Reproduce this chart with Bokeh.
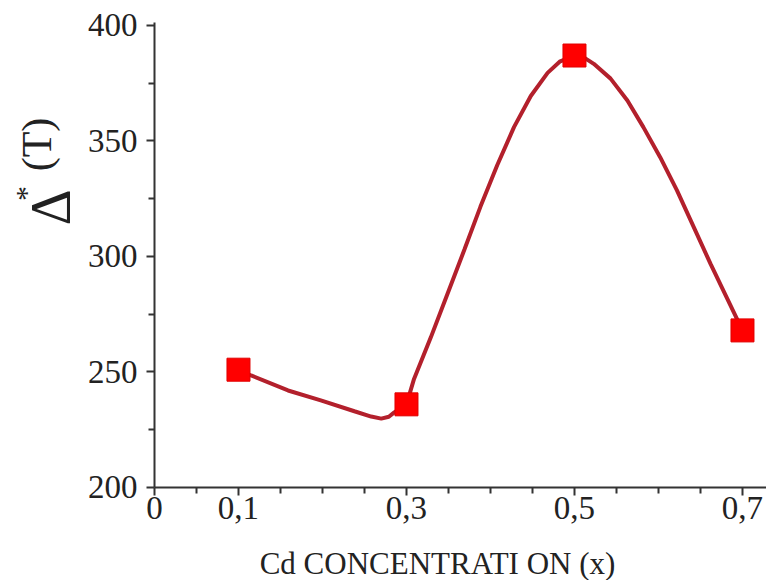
import math
from bokeh.plotting import figure
from bokeh.models import FixedTicker, Label, Range1d
from bokeh.embed import file_html
from bokeh.resources import INLINE

# data points (markers)
cd_x = [0.1, 0.3, 0.5, 0.7]
delta_t = [251, 236, 387, 268]

# smooth curve
curve_x = [0.1, 0.115, 0.159, 0.198, 0.238, 0.258, 0.27, 0.279, 0.2855, 0.3,
           0.309, 0.329, 0.349, 0.369, 0.388, 0.408, 0.428, 0.448, 0.468, 0.483, 0.5,
           0.512, 0.523, 0.543, 0.563, 0.582, 0.602, 0.622, 0.642, 0.662, 0.681, 0.7]
curve_y = [251, 248.5, 242, 237.7, 233, 230.7, 229.8, 230.6, 232.5, 236,
           247, 265, 284, 303, 321.5, 339.5, 356, 369.5, 379.5, 384.5, 387,
           386, 383.4, 377, 367.5, 356, 343, 328.6, 312.7, 296.8, 282.4, 268]

x_ticks = [0, 0.1, 0.3, 0.5, 0.7]
x_tick_labels = ["0", "0,1", "0,3", "0,5", "0,7"]
x_minor = [0.05, 0.15, 0.2, 0.25, 0.35, 0.4, 0.45, 0.55, 0.6, 0.65]
y_ticks = [200, 250, 300, 350, 400]
y_minor = [225, 275, 325, 375]

FONT = "Liberation Serif"

p = figure(width=766, height=580, output_backend="svg", toolbar_location=None,
           x_range=Range1d(-0.1833, 0.7286), y_range=Range1d(159.74, 410.82),
           min_border_left=0, min_border_right=0, min_border_top=0,
           min_border_bottom=0)
p.outline_line_color = None
p.grid.visible = False
p.background_fill_color = "white"
p.border_fill_color = "white"

p.line(curve_x, curve_y, line_color="#b3202c", line_width=4)
p.scatter(cd_x, delta_t, marker="square", size=23, fill_color="#ff0000",
          line_color="#e00000", line_width=1)

for ax in (p.xaxis[0], p.yaxis[0]):
    ax.axis_line_color = "#333333"
    ax.axis_line_width = 2
    ax.major_tick_line_color = "#333333"
    ax.minor_tick_line_color = "#333333"
    ax.major_tick_line_width = 2
    ax.minor_tick_line_width = 2
    ax.major_tick_in = 0
    ax.minor_tick_in = 0
    ax.major_tick_out = 8
    ax.minor_tick_out = 6
    ax.major_label_text_font = FONT
    ax.major_label_text_color = "#222222"

p.xaxis.fixed_location = 200
p.xaxis.bounds = (0, 0.7286)
p.xaxis.ticker = FixedTicker(ticks=x_ticks, minor_ticks=x_minor)
p.xaxis.major_label_overrides = {t: l for t, l in zip(x_ticks, x_tick_labels)}
p.xaxis.major_label_text_font_size = "33px"
p.xaxis.major_label_standoff = 2

p.yaxis.fixed_location = 0
p.yaxis.bounds = (200, 401.5)
p.yaxis.ticker = FixedTicker(ticks=y_ticks, minor_ticks=y_minor)
p.yaxis.major_label_text_font_size = "33px"
p.yaxis.major_label_standoff = 9

# axis titles
p.add_layout(Label(x=437, y=17, x_units="screen", y_units="screen",
                   text="Cd CONCENTRATI ON (x)", text_font=FONT,
                   text_font_size="31px", text_color="#222222",
                   text_align="center", text_baseline="middle"))
p.add_layout(Label(x=50, y=373, x_units="screen", y_units="screen",
                   text="Δ", text_font=FONT, text_font_size="56px",
                   text_color="#222222", angle=math.pi / 2,
                   text_align="center", text_baseline="middle"))
p.add_layout(Label(x=25, y=387, x_units="screen", y_units="screen",
                   text="*", text_font=FONT, text_font_size="30px",
                   text_color="#222222", angle=math.pi / 2,
                   text_align="center", text_baseline="middle"))
p.add_layout(Label(x=36, y=436, x_units="screen", y_units="screen",
                   text="(T)", text_font=FONT, text_font_size="42px",
                   text_color="#222222", angle=math.pi / 2,
                   text_align="center", text_baseline="middle"))

open("out.html", "w").write(file_html(p, INLINE))
